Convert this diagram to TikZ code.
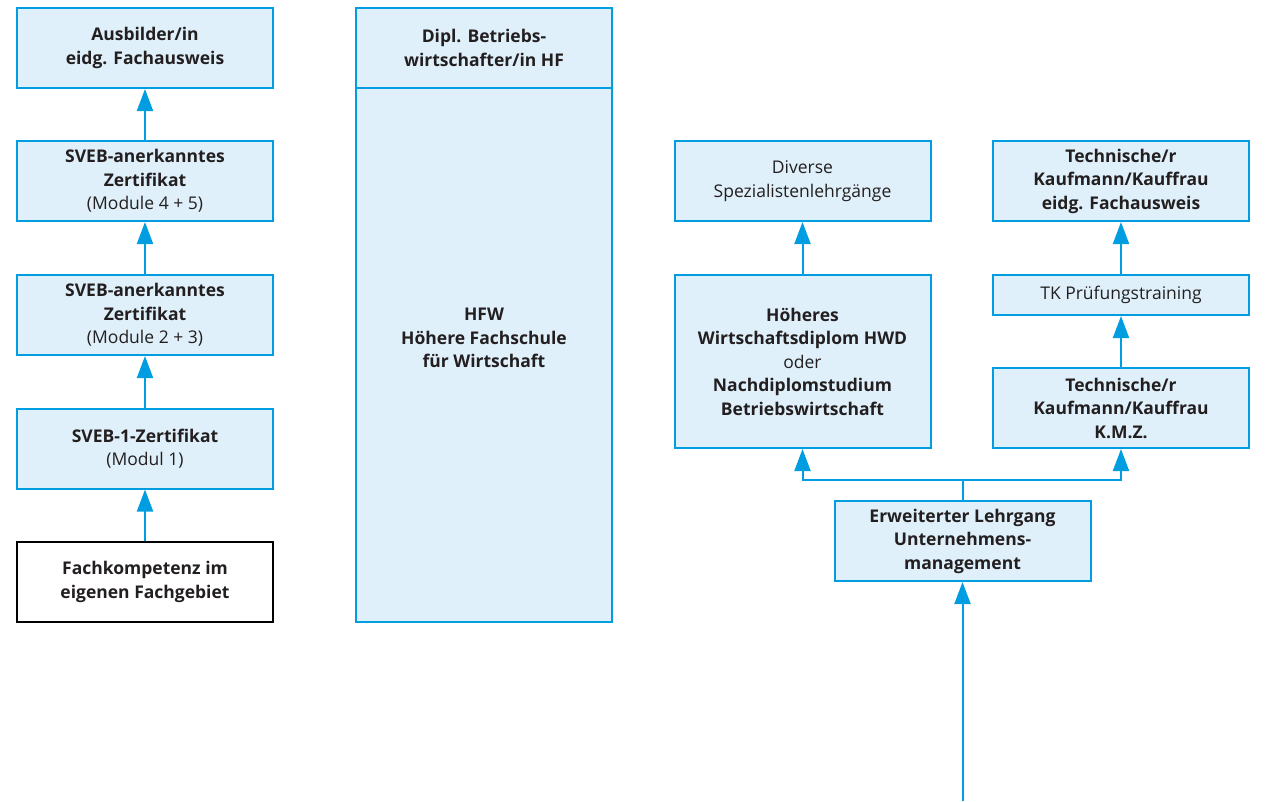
\documentclass[tikz,border=0pt]{standalone}
\usepackage{fontspec}
\setmainfont{Open Sans}
\usetikzlibrary{arrows.meta,calc}
\definecolor{linec}{RGB}{0,158,224}
\definecolor{fillc}{RGB}{223,240,250}
\definecolor{textc}{RGB}{35,31,32}
\tikzset{
  box/.style={draw=linec, fill=fillc, line width=2pt, minimum width=256pt, minimum height=80pt,
    align=center, inner sep=0pt, text=textc, font=\fontsize{17.5}{23.5}\selectfont},
  plainbox/.style={box, draw=black, fill=white},
  arr/.style={draw=linec, line width=2pt, -{Triangle[width=16pt,length=22pt]}},
  conn/.style={draw=linec, line width=2pt},
}
\begin{document}
\begin{tikzpicture}[x=1pt,y=-1pt]
\useasboundingbox (0,0) rectangle (1265,801);
% left column
\node[box] (aus) at (145,48) {\textbf{Ausbilder/in}\\\textbf{eidg. Fachausweis}};
\node[box] (sv45) at (145,181) {\textbf{SVEB-anerkanntes}\\\textbf{Zertifikat}\\(Module 4 + 5)};
\node[box] (sv23) at (145,315) {\textbf{SVEB-anerkanntes}\\\textbf{Zertifikat}\\(Module 2 + 3)};
\node[box] (sv1) at (145,448.5) {\textbf{SVEB-1-Zertifikat}\\(Modul 1)};
\node[plainbox] (fach) at (145,582) {\textbf{Fachkompetenz im}\\\textbf{eigenen Fachgebiet}};
\draw[arr] (sv45.north) -- (aus.south);
\draw[arr] (sv23.north) -- (sv45.south);
\draw[arr] (sv1.north) -- (sv23.south);
\draw[arr] (fach.north) -- (sv1.south);
% middle column
\node[box, minimum height=534pt] (hfw) at (484,355) {};
\node[box] (dipl) at (484,48) {\textbf{Dipl. Betriebs-}\\\textbf{wirtschafter/in HF}};
\node[align=center, text=textc, font=\fontsize{17.5}{23.5}\selectfont] (hfwt) at (484,338)
  {\textbf{HFW}\\\textbf{Höhere Fachschule}\\\textbf{für Wirtschaft}};
% right part
\node[box] (div) at (802.5,181) {Diverse\\Spezialistenlehrgänge};
\node[box] (tke) at (1121,181) {\textbf{Technische/r}\\\textbf{Kaufmann/Kauffrau}\\\textbf{eidg. Fachausweis}};
\node[box, minimum height=40pt] (tkp) at (1121,295) {TK Prüfungstraining};
\node[box, minimum height=173pt] (hoe) at (802.5,361.5) {\textbf{Höheres}\\\textbf{Wirtschaftsdiplom HWD}\\oder\\\textbf{Nachdiplomstudium}\\\textbf{Betriebswirtschaft}};
\node[box] (tkk) at (1121,408) {\textbf{Technische/r}\\\textbf{Kaufmann/Kauffrau}\\\textbf{K.M.Z.}};
\node[box] (erw) at (962.5,541) {\textbf{Erweiterter Lehrgang}\\\textbf{Unternehmens-}\\\textbf{management}};
\coordinate (bot) at (962.5,801);
\coordinate (fork) at (962.5,480);
\draw[arr] (hoe.north) -- (div.south);
\draw[arr] (tkp.north) -- (tke.south);
\draw[arr] (tkk.north) -- (tkp.south);
\draw[conn] (erw.north) -- (fork);
\draw[arr] (fork) -| (hoe.south);
\draw[arr] (fork) -| (tkk.south);
\draw[arr] (bot) -- (erw.south);
\end{tikzpicture}
\end{document}
